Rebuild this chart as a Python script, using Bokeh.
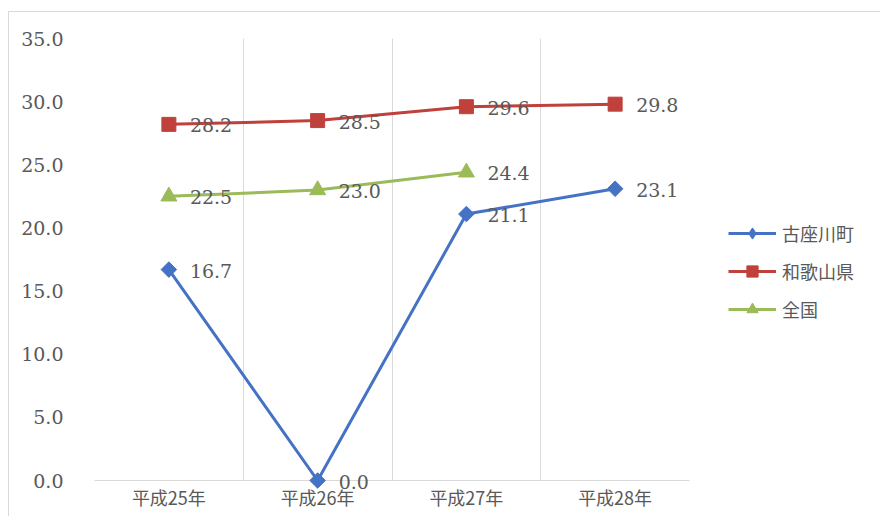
import math

from bokeh.core.properties import value
from bokeh.embed import file_html
from bokeh.models import (ColumnDataSource, FixedTicker, Legend, LegendItem,
                          Range1d)
from bokeh.plotting import figure
from bokeh.resources import INLINE

# 年度と系列の値
categories = ["平成25年", "平成26年", "平成27年", "平成28年"]
kozagawa = [16.7, 0.0, 21.1, 23.1]
wakayama = [28.2, 28.5, 29.6, 29.8]
zenkoku = [22.5, 23.0, 24.4, None]
y_ticks = [0, 5, 10, 15, 20, 25, 30, 35]

# 名前, 値, 色, マーカー, 大きさ, 回転, 凡例用マーカー
series = [
    ("古座川町", kozagawa, "#4472C4", "square", 11, math.pi / 4, "diamond"),
    ("和歌山県", wakayama, "#C0403C", "square", 14, 0.0, "square"),
    ("全国", zenkoku, "#9BBB59", "triangle", 16, 0.0, "triangle"),
]

TEXT = "#595959"
GRID = "#D9D9D9"
NUM_FONT = "DejaVu Serif"
JP_FONT = "Noto Sans CJK JP"

# 外枠の左上は (8, 11)、プロット領域は x 93–688, y 37–479
p = figure(width=872, height=515, output_backend="svg", toolbar_location=None,
           x_range=Range1d(0, len(categories)), y_range=Range1d(0, 35),
           frame_width=595, frame_height=442,
           min_border_left=85, min_border_top=26, min_border_right=184,
           min_border_bottom=36,
           styles={"margin-left": "8px", "margin-top": "11px",
                   "border-top": f"1px solid {GRID}",
                   "border-left": f"1px solid {GRID}"})
p.outline_line_color = None
p.background_fill_color = "white"
p.border_fill_color = "white"

# カテゴリの中心に目盛りラベル、境界に縦の補助線
centers = [i + 0.5 for i in range(len(categories))]
p.xaxis.ticker = FixedTicker(ticks=centers)
p.xaxis.major_label_overrides = {c: name for c, name in zip(centers, categories)}
p.xaxis.major_tick_line_color = None
p.xaxis.minor_tick_line_color = None
p.xaxis.axis_line_color = GRID
p.xaxis.major_label_text_font = JP_FONT
p.xaxis.major_label_text_font_size = "18px"
p.xaxis.major_label_text_color = TEXT
p.xaxis.major_label_standoff = -3

p.xgrid.ticker = FixedTicker(ticks=list(range(len(categories) + 1)))
p.xgrid.grid_line_color = GRID
p.ygrid.grid_line_color = None

p.yaxis.ticker = FixedTicker(ticks=y_ticks)
p.yaxis.major_label_overrides = {t: f"{t:.1f}" for t in y_ticks}
p.yaxis.axis_line_color = None
p.yaxis.major_tick_line_color = None
p.yaxis.minor_tick_line_color = None
p.yaxis.major_label_text_font = NUM_FONT
p.yaxis.major_label_text_font_size = "19px"
p.yaxis.major_label_text_color = TEXT
p.yaxis.major_label_standoff = 25

legend_items = []
for name, vals, color, marker, size, angle, key_marker in series:
    xs = [c for c, v in zip(centers, vals) if v is not None]
    ys = [v for v in vals if v is not None]
    src = ColumnDataSource(dict(x=xs, y=ys, label=[f"{v:.1f}" for v in ys]))
    line_r = p.line("x", "y", source=src, line_color=color, line_width=3)
    p.scatter("x", "y", source=src, marker=marker, size=size,
              angle=angle, fill_color=color, line_color=color,
              level="overlay")
    p.text("x", "y", text="label", source=src, x_offset=21, y_offset=1,
           text_font=value(NUM_FONT), text_font_size="19px",
           text_color=TEXT, text_baseline="middle", text_align="left",
           level="overlay")
    # 凡例の見本だけに使うマーカー（座標なしで図中には描かれない）
    key_r = p.scatter(x=[math.nan], y=[math.nan], marker=key_marker,
                      size=size + 2, fill_color=color, line_color=color)
    legend_items.append(LegendItem(label=name, renderers=[line_r, key_r]))

# 凡例はプロット領域の右側の余白に置く
legend = Legend(items=legend_items, location=(39, 157), orientation="vertical",
                label_text_font=JP_FONT, label_text_font_size="18px",
                label_text_color=TEXT, glyph_width=48, glyph_height=28,
                label_height=28, spacing=10, padding=0, margin=0,
                border_line_color=None, background_fill_alpha=0,
                label_standoff=6)
p.add_layout(legend, "right")

open("out.html", "w").write(file_html(p, INLINE))
